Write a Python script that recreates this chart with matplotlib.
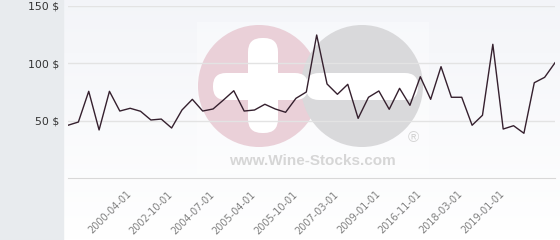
import numpy as np
import matplotlib.pyplot as plt
import matplotlib.transforms as mtransforms
from matplotlib.patches import Rectangle, Circle, FancyBboxPatch

# price history (USD), one value per listing
prices = [46.0, 48.8, 75.6, 41.9, 75.6, 58.4, 60.8, 58.2, 50.6, 51.4,
          43.6, 59.3, 68.6, 58.4, 60.2, 68.0, 76.1, 58.4, 59.3, 64.3,
          60.2, 57.3, 69.5, 75.0, 124.7, 82.0, 73.0, 81.7, 52.0, 70.4,
          75.9, 59.9, 78.2, 63.4, 88.3, 68.6, 97.1, 70.4, 70.4, 46.0,
          54.7, 116.6, 42.7, 45.6, 39.0, 83.1, 87.8, 100.5]

date_labels = ['2000-04-01', '2002-10-01', '2004-07-01', '2005-04-01',
               '2005-10-01', '2007-03-01', '2009-01-01', '2016-11-01',
               '2018-03-01', '2019-01-01']
first_label = 6
label_step = 4

y_ticks = [50, 100, 150]
y_labels = ['50 $', '100 $', '150 $']

W, H = 560, 240
fig = plt.figure(figsize=(W / 100, H / 100), dpi=100)

# background layer in pixel coordinates
bg = fig.add_axes([0, 0, 1, 1], zorder=0)
bg.set_xlim(0, W)
bg.set_ylim(H, 0)
bg.axis('off')

grad = np.linspace(0, 1, 100).reshape(-1, 1)
top = np.array([0.955, 0.96, 0.975])
bottom = np.array([1.0, 1.0, 1.0])
img = top + (bottom - top) * grad[..., None]
bg.imshow(img, extent=[63, W, H, 0], aspect='auto', zorder=0)
bg.add_patch(Rectangle((0, 0), 63, H, color='#e8ebee', zorder=1))

# watermark
bg.add_patch(Rectangle((197, 22), 232, 152, color='white', alpha=0.35, lw=0, zorder=1))
bg.add_patch(Circle((259, 86), 61, color='#ead0d8', lw=0, zorder=2))
bg.add_patch(Circle((362, 86), 61, color='#d9d9db', lw=0, zorder=3))
bg.add_patch(FancyBboxPatch((248, 38), 30, 95, boxstyle='round,pad=0,rounding_size=14',
                            color='white', lw=0, zorder=4))
bg.add_patch(FancyBboxPatch((213, 73), 95, 27, boxstyle='round,pad=0,rounding_size=13',
                            color='white', lw=0, zorder=4))
bg.add_patch(FancyBboxPatch((306, 73), 112, 27, boxstyle='round,pad=0,rounding_size=13',
                            color='white', lw=0, zorder=4))
bg.text(312, 161, 'www.Wine-Stocks.com', ha='center', va='center', fontsize=11,
        fontweight='bold', family='Liberation Sans', color='#d6d6d6', zorder=5)
bg.text(413, 138, '\u00ae', ha='center', va='center', fontsize=11,
        family='Liberation Sans', color='#d4d4d4', zorder=5)

# main chart
ax = fig.add_axes([68 / W, (H - 178) / H, (555 - 68) / W, (178 - 6) / H], zorder=2)
ax.patch.set_alpha(0)
x = np.arange(len(prices))
ax.plot(x, prices, color='#35202e', lw=1.0, zorder=3)

ax.set_xlim(0, len(prices) - 1)
ax.set_ylim(0, 150)
ax.set_yticks(y_ticks)
ax.set_yticklabels(y_labels)
ax.set_xticks(range(first_label, first_label + label_step * len(date_labels), label_step))
ax.set_xticklabels(date_labels, rotation=45, ha='right', rotation_mode='anchor')
ax.tick_params(axis='y', length=0, pad=6.5, labelsize=7.8, labelcolor='#333333')
ax.tick_params(axis='x', length=0, pad=8, labelsize=7, labelcolor='#808080')
shift = mtransforms.ScaledTranslation(-4 / 100, 0, fig.dpi_scale_trans)
for lbl in ax.get_xticklabels():
    lbl.set_transform(lbl.get_transform() + shift)
ax.grid(axis='y', color='#e3e3e3', lw=1)
for s in ['top', 'right', 'left']:
    ax.spines[s].set_visible(False)
ax.spines['bottom'].set_color('#d8d8d8')

fig.savefig('out.png', dpi=100)
